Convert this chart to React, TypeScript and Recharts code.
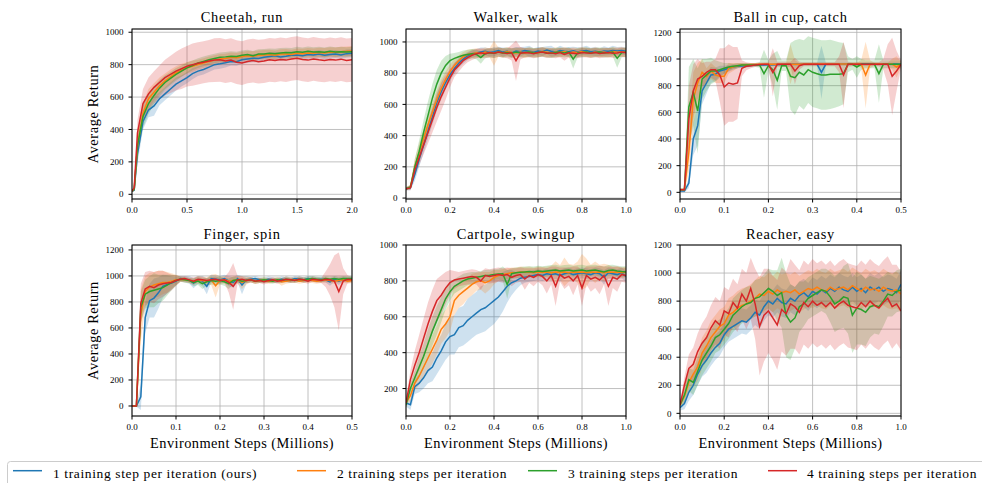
import React from "react";
import { ComposedChart, Line, Area, XAxis, YAxis, CartesianGrid } from "recharts";

// ---------- labels ----------
const seriesNames = [
  "1 training step per iteration (ours)",
  "2 training steps per iteration",
  "3 training steps per iteration",
  "4 training steps per iteration",
];
const seriesColors = ["#1f77b4", "#ff7f0e", "#2ca02c", "#d62728"];
const panelTitles = ["Cheetah, run", "Walker, walk", "Ball in cup, catch", "Finger, spin", "Cartpole, swingup", "Reacher, easy"];

// ---------- x grids (millions of steps) ----------
const cheetahSteps = [0, 0.02, 0.05, 0.1, 0.15, 0.2, 0.25, 0.3, 0.35, 0.4,
  0.45, 0.5, 0.55, 0.6, 0.65, 0.7, 0.75, 0.8, 0.85, 0.9,
  0.95, 1.0, 1.05, 1.1, 1.15, 1.2, 1.25, 1.3, 1.35, 1.4,
  1.45, 1.5, 1.55, 1.6, 1.65, 1.7, 1.75, 1.8, 1.85, 1.9,
  1.95, 2.0];
const oneMillionSteps = [0, 0.02, 0.04, 0.06, 0.08, 0.1, 0.12, 0.14, 0.16, 0.18,
  0.2, 0.22, 0.24, 0.26, 0.28, 0.3, 0.32, 0.34, 0.36, 0.38,
  0.4, 0.42, 0.44, 0.46, 0.48, 0.5, 0.52, 0.54, 0.56, 0.58,
  0.6, 0.62, 0.64, 0.66, 0.68, 0.7, 0.72, 0.74, 0.76, 0.78,
  0.8, 0.82, 0.84, 0.86, 0.88, 0.9, 0.92, 0.94, 0.96, 0.98,
  1.0];
const halfMillionSteps = [0, 0.01, 0.02, 0.03, 0.04, 0.05, 0.06, 0.07, 0.08, 0.09,
  0.1, 0.11, 0.12, 0.13, 0.14, 0.15, 0.16, 0.17, 0.18, 0.19,
  0.2, 0.21, 0.22, 0.23, 0.24, 0.25, 0.26, 0.27, 0.28, 0.29,
  0.3, 0.31, 0.32, 0.33, 0.34, 0.35, 0.36, 0.37, 0.38, 0.39,
  0.4, 0.41, 0.42, 0.43, 0.44, 0.45, 0.46, 0.47, 0.48, 0.49,
  0.5];

// ---------- Cheetah, run ----------
const cheetahMean1 = [20, 25, 250, 450, 520, 545, 590, 620, 650, 680,
  700, 720, 745, 760, 770, 785, 800, 805, 812, 820,
  818, 830, 835, 840, 838, 845, 850, 855, 848, 852,
  858, 860, 855, 862, 860, 865, 858, 862, 866, 860,
  868, 870];
const cheetahSpread1 = [5, 10, 60, 50, 45, 60, 40, 40, 40, 40,
  35, 35, 35, 30, 30, 30, 30, 30, 30, 25,
  25, 25, 25, 25, 25, 25, 25, 25, 25, 25,
  25, 25, 25, 25, 25, 25, 25, 25, 25, 25,
  25, 25];
const cheetahMean2 = [20, 30, 300, 500, 590, 630, 670, 700, 725, 750,
  765, 780, 790, 800, 810, 820, 828, 835, 838, 845,
  842, 850, 855, 852, 858, 860, 862, 858, 865, 866,
  862, 870, 868, 872, 870, 875, 872, 878, 876, 880,
  882, 885];
const cheetahSpread2 = [5, 10, 60, 60, 60, 55, 50, 45, 45, 40,
  40, 35, 35, 30, 30, 30, 30, 30, 30, 30,
  30, 30, 30, 30, 30, 30, 30, 30, 30, 30,
  30, 30, 30, 30, 30, 30, 30, 30, 30, 30,
  30, 30];
const cheetahMean3 = [20, 30, 300, 480, 560, 610, 655, 690, 715, 740,
  760, 780, 795, 810, 820, 830, 838, 845, 848, 852,
  850, 858, 862, 855, 865, 866, 870, 868, 872, 875,
  873, 880, 876, 882, 878, 880, 876, 882, 878, 880,
  878, 880];
const cheetahSpread3 = [5, 10, 70, 70, 65, 55, 50, 45, 40, 40,
  35, 35, 30, 30, 30, 30, 30, 30, 30, 30,
  30, 30, 30, 30, 30, 30, 30, 30, 30, 30,
  30, 30, 30, 30, 30, 30, 30, 30, 30, 30,
  30, 30];
const cheetahMean4 = [20, 40, 380, 560, 620, 660, 690, 720, 740, 760,
  775, 790, 800, 808, 815, 822, 828, 830, 822, 828,
  815, 810, 820, 825, 818, 822, 830, 826, 832, 828,
  835, 840, 832, 828, 835, 830, 826, 832, 828, 834,
  826, 830];
const cheetahSpread4 = [5, 20, 80, 90, 100, 100, 105, 110, 115, 120,
  125, 125, 130, 130, 130, 130, 135, 135, 135, 135,
  135, 135, 135, 135, 135, 135, 135, 135, 135, 135,
  135, 135, 135, 135, 135, 135, 135, 135, 135, 135,
  135, 135];

// ---------- Walker, walk ----------
const walkerMean1 = [60, 65, 150, 250, 340, 430, 520, 610, 680, 740,
  790, 830, 865, 890, 910, 925, 930, 935, 940, 932,
  938, 945, 935, 940, 930, 942, 938, 945, 940, 935,
  942, 938, 948, 940, 935, 945, 940, 938, 944, 936,
  942, 945, 938, 940, 935, 942, 940, 946, 942, 945,
  940];
const walkerSpread1 = [10, 15, 40, 50, 50, 50, 50, 50, 50, 45,
  40, 35, 30, 30, 25, 25, 25, 30, 25, 25,
  30, 25, 30, 25, 30, 25, 30, 25, 35, 25,
  25, 30, 25, 35, 25, 30, 25, 30, 25, 30,
  25, 30, 25, 30, 25, 30, 25, 30, 25, 25,
  25];
const walkerMean2 = [60, 70, 200, 290, 380, 470, 550, 630, 700, 760,
  810, 850, 880, 905, 920, 925, 930, 925, 935, 930,
  928, 935, 930, 938, 932, 930, 935, 928, 936, 932,
  930, 938, 934, 930, 936, 932, 938, 930, 935, 932,
  938, 934, 930, 936, 932, 935, 930, 938, 934, 936,
  935];
const walkerSpread2 = [10, 15, 50, 60, 60, 60, 60, 60, 60, 50,
  45, 40, 35, 30, 30, 30, 30, 30, 30, 30,
  80, 30, 30, 30, 30, 30, 30, 30, 30, 30,
  30, 30, 30, 30, 30, 30, 30, 30, 30, 30,
  30, 30, 30, 30, 30, 30, 30, 30, 30, 30,
  30];
const walkerMean3 = [60, 70, 200, 300, 420, 530, 640, 730, 800, 850,
  880, 895, 905, 915, 920, 925, 920, 900, 925, 930,
  928, 935, 930, 932, 928, 935, 930, 932, 935, 930,
  932, 935, 930, 928, 932, 935, 930, 935, 890, 930,
  932, 935, 930, 932, 935, 930, 932, 935, 895, 930,
  935];
const walkerSpread3 = [10, 15, 50, 70, 80, 90, 90, 90, 80, 60,
  45, 35, 30, 30, 30, 30, 30, 40, 30, 30,
  30, 30, 30, 30, 30, 30, 30, 30, 30, 30,
  30, 30, 30, 30, 30, 30, 30, 30, 60, 30,
  30, 30, 30, 30, 30, 30, 30, 30, 60, 30,
  30];
const walkerMean4 = [60, 65, 180, 260, 340, 420, 500, 580, 650, 710,
  770, 820, 850, 880, 900, 915, 925, 930, 925, 932,
  928, 935, 930, 926, 932, 880, 928, 932, 930, 925,
  932, 935, 928, 930, 925, 932, 920, 930, 928, 925,
  932, 930, 928, 932, 926, 930, 932, 928, 930, 935,
  930];
const walkerSpread4 = [10, 15, 40, 50, 60, 70, 80, 90, 90, 80,
  60, 45, 40, 35, 30, 30, 30, 30, 30, 30,
  30, 30, 30, 30, 50, 130, 40, 30, 30, 30,
  30, 30, 30, 30, 30, 30, 40, 30, 30, 30,
  30, 30, 30, 30, 30, 30, 30, 30, 30, 30,
  30];

// ---------- Ball in cup, catch ----------
const ballMean1 = [10, 10, 70, 400, 500, 760, 820, 880, 885, 910,
  920, 930, 940, 945, 948, 950, 952, 955, 955, 955,
  956, 957, 958, 958, 960, 960, 960, 960, 962, 962,
  962, 962, 900, 962, 962, 962, 962, 962, 962, 962,
  962, 962, 962, 962, 962, 962, 962, 962, 962, 962,
  960];
const ballSpread1 = [10, 10, 40, 120, 150, 100, 80, 60, 50, 40,
  30, 25, 20, 15, 15, 15, 10, 10, 10, 10,
  10, 10, 10, 10, 10, 10, 10, 10, 10, 10,
  10, 10, 200, 10, 10, 10, 10, 10, 10, 10,
  10, 10, 10, 10, 10, 10, 10, 10, 10, 10,
  10];
const ballMean2 = [20, 20, 300, 700, 820, 900, 870, 910, 880, 870,
  870, 930, 940, 950, 955, 955, 958, 958, 960, 960,
  960, 960, 960, 960, 960, 960, 960, 960, 962, 962,
  962, 962, 962, 962, 962, 962, 962, 962, 962, 962,
  962, 962, 880, 960, 962, 962, 962, 962, 962, 940,
  960];
const ballSpread2 = [10, 10, 150, 200, 150, 100, 60, 60, 60, 50,
  50, 40, 30, 20, 15, 15, 10, 10, 10, 10,
  10, 10, 10, 10, 10, 150, 30, 10, 10, 10,
  10, 10, 10, 10, 10, 10, 10, 10, 10, 10,
  10, 30, 250, 30, 10, 10, 10, 10, 40, 80,
  20];
const ballMean3 = [20, 20, 640, 750, 610, 850, 880, 910, 910, 920,
  930, 940, 945, 950, 955, 955, 955, 955, 955, 890,
  950, 920, 840, 950, 950, 870, 860, 900, 880, 920,
  900, 890, 880, 880, 885, 885, 885, 890, 960, 960,
  940, 960, 960, 960, 960, 890, 960, 960, 960, 960,
  960];
const ballSpread3 = [10, 10, 300, 250, 320, 150, 120, 100, 80, 60,
  40, 30, 20, 20, 15, 15, 15, 15, 20, 180,
  40, 120, 220, 40, 40, 250, 280, 250, 260, 250,
  260, 260, 260, 260, 260, 250, 240, 230, 60, 40,
  80, 40, 30, 30, 30, 220, 30, 30, 30, 30,
  30];
const ballMean4 = [20, 20, 550, 760, 850, 870, 900, 920, 920, 880,
  790, 820, 810, 820, 930, 945, 950, 955, 958, 960,
  960, 900, 960, 960, 960, 960, 910, 950, 960, 960,
  960, 960, 960, 960, 960, 960, 960, 880, 960, 960,
  960, 960, 960, 960, 960, 960, 960, 960, 870, 910,
  960];
const ballSpread4 = [10, 10, 250, 200, 150, 100, 80, 60, 80, 200,
  290, 290, 280, 270, 60, 30, 20, 15, 15, 15,
  15, 180, 20, 20, 20, 20, 100, 30, 15, 15,
  15, 15, 15, 15, 15, 15, 60, 250, 20, 15,
  15, 15, 15, 15, 15, 15, 40, 150, 290, 150,
  30];

// ---------- Finger, spin ----------
const fingerMean1 = [0, 0, 70, 680, 810, 830, 870, 920, 935, 945,
  960, 980, 975, 970, 945, 970, 960, 920, 980, 975,
  970, 980, 960, 950, 980, 930, 970, 975, 980, 970,
  965, 975, 970, 965, 975, 970, 965, 980, 975, 970,
  980, 975, 970, 975, 970, 955, 975, 960, 975, 970,
  975];
const fingerSpread1 = [5, 5, 100, 120, 130, 150, 120, 90, 70, 50,
  30, 20, 25, 30, 40, 30, 40, 60, 30, 30,
  30, 30, 40, 40, 30, 70, 30, 20, 20, 20,
  20, 20, 20, 20, 20, 20, 20, 20, 20, 20,
  20, 20, 20, 20, 20, 30, 20, 30, 20, 20,
  20];
const fingerMean2 = [0, 0, 700, 880, 915, 930, 940, 950, 950, 960,
  970, 975, 970, 965, 960, 970, 965, 960, 970, 925,
  965, 970, 960, 965, 970, 950, 965, 970, 960, 965,
  970, 960, 965, 970, 955, 960, 965, 970, 960, 965,
  970, 965, 960, 965, 970, 965, 960, 965, 970, 960,
  965];
const fingerSpread2 = [5, 5, 200, 120, 110, 100, 100, 90, 80, 60,
  40, 20, 20, 20, 20, 30, 30, 30, 40, 90,
  30, 30, 30, 30, 30, 50, 30, 20, 20, 20,
  20, 20, 20, 20, 30, 20, 20, 20, 20, 20,
  20, 20, 20, 20, 20, 20, 20, 20, 20, 20,
  20];
const fingerMean3 = [0, 0, 760, 860, 880, 890, 900, 910, 930, 950,
  965, 975, 970, 965, 950, 960, 940, 955, 965, 960,
  965, 955, 940, 965, 970, 960, 965, 970, 960, 965,
  970, 965, 960, 970, 965, 975, 970, 965, 975, 970,
  975, 980, 975, 970, 980, 975, 980, 975, 980, 980,
  980];
const fingerSpread3 = [5, 5, 120, 110, 120, 130, 110, 100, 80, 60,
  40, 20, 20, 20, 30, 30, 40, 30, 30, 30,
  30, 30, 40, 30, 20, 20, 20, 20, 20, 20,
  20, 20, 20, 20, 20, 20, 20, 20, 20, 20,
  20, 20, 20, 20, 20, 20, 20, 20, 20, 20,
  20];
const fingerMean4 = [0, 0, 790, 900, 920, 910, 930, 940, 945, 950,
  965, 975, 980, 970, 960, 975, 970, 965, 970, 975,
  965, 970, 950, 920, 970, 975, 965, 970, 960, 965,
  955, 965, 970, 960, 965, 975, 970, 965, 975, 970,
  960, 975, 970, 965, 975, 970, 960, 880, 960, 975,
  970];
const fingerSpread4 = [5, 5, 150, 130, 120, 120, 110, 100, 80, 60,
  40, 20, 20, 20, 30, 20, 20, 20, 20, 20,
  20, 20, 80, 180, 30, 20, 20, 20, 20, 20,
  20, 20, 20, 20, 20, 20, 20, 20, 20, 20,
  20, 20, 20, 20, 60, 120, 200, 300, 100, 30,
  20];

// ---------- Cartpole, swingup ----------
const cartpoleMean1 = [120, 110, 210, 230, 260, 300, 320, 370, 410, 460,
  490, 500, 540, 550, 580, 600, 620, 640, 650, 670,
  690, 710, 740, 770, 790, 800, 815, 820, 825, 830,
  835, 830, 840, 835, 840, 830, 840, 845, 835, 840,
  845, 840, 835, 845, 840, 820, 845, 840, 835, 845,
  825];
const cartpoleSpread1 = [20, 30, 40, 50, 60, 70, 80, 90, 90, 100,
  100, 110, 110, 110, 120, 120, 120, 130, 130, 130,
  130, 120, 110, 90, 70, 50, 40, 30, 30, 30,
  30, 30, 30, 30, 30, 30, 30, 30, 30, 30,
  30, 30, 30, 30, 30, 40, 30, 30, 30, 30,
  30];
const cartpoleMean2 = [120, 160, 230, 270, 320, 370, 420, 470, 530, 560,
  600, 690, 720, 740, 760, 780, 795, 800, 790, 800,
  820, 830, 835, 840, 845, 845, 850, 848, 850, 845,
  850, 848, 850, 845, 850, 848, 850, 845, 850, 848,
  850, 845, 850, 848, 850, 845, 850, 848, 850, 845,
  850];
const cartpoleSpread2 = [20, 30, 40, 50, 60, 70, 80, 80, 80, 80,
  80, 80, 70, 70, 60, 60, 50, 50, 60, 50,
  40, 30, 30, 30, 30, 30, 30, 30, 30, 30,
  30, 30, 30, 40, 60, 40, 80, 50, 40, 60,
  100, 80, 40, 60, 40, 50, 40, 30, 30, 30,
  30];
const cartpoleMean3 = [110, 200, 260, 320, 380, 450, 520, 580, 640, 700,
  740, 770, 785, 800, 810, 815, 820, 825, 830, 832,
  835, 838, 840, 780, 840, 845, 848, 850, 852, 850,
  855, 852, 855, 858, 860, 855, 858, 860, 855, 858,
  860, 855, 858, 860, 855, 850, 858, 860, 855, 852,
  850];
const cartpoleSpread3 = [20, 30, 40, 60, 70, 80, 80, 80, 70, 60,
  50, 40, 40, 40, 35, 35, 30, 30, 30, 30,
  30, 30, 40, 80, 30, 30, 30, 30, 30, 30,
  30, 30, 30, 30, 30, 30, 30, 30, 30, 30,
  30, 30, 30, 30, 30, 30, 30, 30, 30, 30,
  30];
const cartpoleMean4 = [120, 250, 330, 400, 480, 560, 630, 690, 720, 760,
  790, 805, 810, 815, 820, 825, 820, 800, 830, 825,
  830, 835, 830, 835, 820, 830, 835, 810, 830, 820,
  835, 825, 800, 830, 770, 835, 815, 825, 800, 830,
  760, 830, 810, 820, 805, 830, 770, 820, 810, 835,
  830];
const cartpoleSpread4 = [20, 50, 80, 100, 110, 120, 120, 120, 110, 90,
  70, 50, 40, 40, 40, 40, 40, 50, 40, 40,
  40, 40, 40, 40, 50, 40, 40, 60, 40, 50,
  40, 50, 70, 50, 110, 40, 60, 50, 80, 50,
  100, 50, 70, 60, 80, 50, 110, 60, 70, 40,
  40];

// ---------- Reacher, easy ----------
const reacherMean1 = [40, 70, 150, 200, 280, 340, 380, 430, 470, 500,
  560, 600, 620, 640, 660, 650, 680, 720, 700, 760,
  800, 780, 820, 790, 780, 820, 800, 840, 860, 830,
  870, 850, 880, 860, 890, 870, 900, 880, 870, 900,
  870, 890, 860, 900, 880, 900, 870, 890, 880, 860,
  920];
const reacherSpread1 = [20, 40, 60, 70, 80, 80, 90, 90, 90, 90,
  90, 90, 90, 90, 90, 90, 90, 90, 100, 100,
  100, 100, 100, 100, 100, 100, 100, 100, 100, 100,
  100, 100, 100, 100, 100, 100, 100, 100, 100, 100,
  100, 100, 100, 100, 100, 100, 100, 100, 100, 100,
  100];
const reacherMean2 = [60, 120, 220, 280, 330, 430, 480, 540, 580, 620,
  640, 700, 720, 750, 770, 780, 800, 820, 850, 840,
  870, 850, 880, 860, 870, 860, 880, 850, 870, 890,
  880, 900, 880, 870, 900, 880, 890, 900, 880, 910,
  890, 870, 900, 880, 890, 870, 900, 880, 870, 880,
  850];
const reacherSpread2 = [20, 50, 80, 90, 100, 110, 110, 120, 120, 120,
  120, 120, 120, 120, 120, 120, 120, 130, 130, 130,
  130, 130, 130, 130, 130, 130, 130, 130, 130, 130,
  130, 130, 130, 130, 130, 130, 130, 130, 130, 130,
  130, 130, 130, 130, 130, 130, 130, 130, 130, 130,
  130];
const reacherMean3 = [60, 130, 240, 220, 300, 380, 430, 480, 540, 560,
  600, 640, 700, 730, 760, 780, 790, 820, 830, 860,
  890, 870, 840, 860, 700, 650, 680, 760, 780, 820,
  840, 860, 880, 870, 830, 780, 800, 830, 820, 700,
  750, 740, 720, 760, 770, 760, 800, 850, 840, 870,
  880];
const reacherSpread3 = [20, 50, 80, 90, 100, 110, 110, 110, 110, 110,
  110, 110, 120, 120, 120, 120, 120, 130, 130, 130,
  140, 150, 180, 250, 300, 270, 220, 180, 160, 150,
  150, 150, 150, 160, 180, 200, 200, 220, 250, 270,
  260, 250, 240, 220, 200, 200, 180, 160, 150, 150,
  150];
const reacherMean4 = [60, 200, 320, 350, 440, 500, 540, 610, 660, 630,
  730, 710, 790, 750, 850, 800, 890, 780, 620, 700,
  730, 680, 630, 740, 710, 780, 760, 720, 790, 760,
  800, 770, 790, 760, 790, 750, 780, 800, 770, 760,
  750, 790, 760, 800, 770, 750, 790, 820, 760, 780,
  730];
const reacherSpread4 = [20, 60, 100, 120, 130, 140, 150, 160, 170, 170,
  170, 170, 170, 170, 180, 200, 220, 250, 350, 330,
  300, 300, 320, 300, 300, 320, 300, 300, 300, 300,
  300, 300, 300, 300, 300, 300, 300, 300, 300, 300,
  300, 300, 300, 300, 300, 300, 300, 300, 300, 280,
  280];

// ---------- axis ticks ----------
const xTicksTwo = [0, 0.5, 1.0, 1.5, 2.0];
const xTicksOne = [0, 0.2, 0.4, 0.6, 0.8, 1.0];
const xTicksHalf = [0, 0.1, 0.2, 0.3, 0.4, 0.5];
const yTicksTo1000 = [0, 200, 400, 600, 800, 1000];
const yTicksTo1200 = [0, 200, 400, 600, 800, 1000, 1200];
const yTicksCartpole = [200, 400, 600, 800, 1000];

const FONT = "Liberation Serif, DejaVu Serif, Noto Serif, serif";

type PanelSpec = {
  title: string;
  steps: number[];
  means: number[][];
  spreads: number[][];
  xDomain: [number, number];
  xTicks: number[];
  yDomain: [number, number];
  yTicks: number[];
  left: number;
  top: number;
  width: number;
  height: number;
};

const COLS = [132, 406, 680];
const ROWS = [29, 245];
const PW = 220;
const PH = [170, 171];

const panels: PanelSpec[] = [
  {
    title: panelTitles[0], steps: cheetahSteps,
    means: [cheetahMean1, cheetahMean2, cheetahMean3, cheetahMean4],
    spreads: [cheetahSpread1, cheetahSpread2, cheetahSpread3, cheetahSpread4],
    xDomain: [0, 2], xTicks: xTicksTwo, yDomain: [-29, 1020], yTicks: yTicksTo1000,
    left: COLS[0], top: ROWS[0], width: PW, height: PH[0],
  },
  {
    title: panelTitles[1], steps: oneMillionSteps,
    means: [walkerMean1, walkerMean2, walkerMean3, walkerMean4],
    spreads: [walkerSpread1, walkerSpread2, walkerSpread3, walkerSpread4],
    xDomain: [0, 1], xTicks: xTicksOne, yDomain: [-6, 1083], yTicks: yTicksTo1000,
    left: COLS[1], top: ROWS[0], width: PW, height: PH[0],
  },
  {
    title: panelTitles[2], steps: halfMillionSteps,
    means: [ballMean1, ballMean2, ballMean3, ballMean4],
    spreads: [ballSpread1, ballSpread2, ballSpread3, ballSpread4],
    xDomain: [0, 0.5], xTicks: xTicksHalf, yDomain: [-50, 1225], yTicks: yTicksTo1200,
    left: COLS[2], top: ROWS[0], width: PW + 1, height: PH[0],
  },
  {
    title: panelTitles[3], steps: halfMillionSteps,
    means: [fingerMean1, fingerMean2, fingerMean3, fingerMean4],
    spreads: [fingerSpread1, fingerSpread2, fingerSpread3, fingerSpread4],
    xDomain: [0, 0.5], xTicks: xTicksHalf, yDomain: [-77, 1238], yTicks: yTicksTo1200,
    left: COLS[0], top: ROWS[1], width: PW, height: PH[1],
  },
  {
    title: panelTitles[4], steps: oneMillionSteps,
    means: [cartpoleMean1, cartpoleMean2, cartpoleMean3, cartpoleMean4],
    spreads: [cartpoleSpread1, cartpoleSpread2, cartpoleSpread3, cartpoleSpread4],
    xDomain: [0, 1], xTicks: xTicksOne, yDomain: [47, 1000], yTicks: yTicksCartpole,
    left: COLS[1], top: ROWS[1], width: PW, height: PH[1],
  },
  {
    title: panelTitles[5], steps: oneMillionSteps,
    means: [reacherMean1, reacherMean2, reacherMean3, reacherMean4],
    spreads: [reacherSpread1, reacherSpread2, reacherSpread3, reacherSpread4],
    xDomain: [0, 1], xTicks: xTicksOne, yDomain: [-19, 1200], yTicks: yTicksTo1200,
    left: COLS[2], top: ROWS[1], width: PW + 1, height: PH[1],
  },
];

const YW = 45;
const MT = 5;
const MR = 10;
const XH = 20;

function Panel({ spec }: { spec: PanelSpec }) {
  const rows = spec.steps.map((x, i) => {
    const r: Record<string, any> = { x };
    spec.means.forEach((m, k) => {
      r["m" + k] = m[i];
      r["b" + k] = [m[i] - spec.spreads[k][i], m[i] + spec.spreads[k][i]];
    });
    return r;
  });
  const tickStyle = { fontSize: 9, fill: "#000", fontFamily: FONT, style: { fontFamily: FONT } };
  return (
    <div style={{ position: "absolute", left: spec.left - YW, top: spec.top - MT, fontFamily: FONT }}>
      <ComposedChart
        width={spec.width + YW + MR}
        height={spec.height + MT + XH}
        data={rows}
        margin={{ top: MT, right: MR, bottom: 0, left: 0 }}
        style={{ fontFamily: FONT }}
      >
        <CartesianGrid stroke="#b0b0b0" strokeWidth={0.8} />
        <XAxis
          type="number"
          dataKey="x"
          domain={spec.xDomain}
          ticks={spec.xTicks}
          interval={0}
          allowDataOverflow
          height={XH}
          axisLine={false}
          tickLine={{ stroke: "#000" }}
          tickSize={3.5}
          tickMargin={4}
          tick={tickStyle}
          tickFormatter={(v: number) => v.toFixed(1)}
        />
        <YAxis
          type="number"
          domain={spec.yDomain}
          ticks={spec.yTicks}
          interval={0}
          allowDataOverflow
          width={YW}
          axisLine={false}
          tickLine={{ stroke: "#000" }}
          tickSize={3.5}
          tickMargin={5}
          tick={tickStyle}
        />
        {spec.means.map((_, k) => (
          <Area
            key={"b" + k}
            type="linear"
            dataKey={"b" + k}
            fill={seriesColors[k]}
            fillOpacity={0.22}
            stroke="none"
            activeDot={false}
            dot={false}
            isAnimationActive={false}
          />
        ))}
        {spec.means.map((_, k) => (
          <Line
            key={"m" + k}
            type="linear"
            dataKey={"m" + k}
            stroke={seriesColors[k]}
            strokeWidth={1.5}
            dot={false}
            activeDot={false}
            isAnimationActive={false}
          />
        ))}
      </ComposedChart>
    </div>
  );
}

const legendLineX = [13, 297, 528, 768];
const legendTextX = [53, 337, 568, 807];

export default function App() {
  const textStyle = { fontFamily: FONT };
  return (
    <div style={{ position: "absolute", left: 0, top: 0, width: 982, height: 483, overflow: "hidden", background: "#fff", fontFamily: FONT }}>
      {panels.map((p, i) => (
        <Panel key={i} spec={p} />
      ))}
      <svg
        width={982}
        height={483}
        style={{ position: "absolute", left: 0, top: 0, pointerEvents: "none", fontFamily: FONT }}
      >
        {panels.map((p, i) => (
          <g key={i}>
            <rect x={p.left} y={p.top} width={p.width} height={p.height} fill="none" stroke="#000" strokeWidth={1} />
            <text
              x={p.left + p.width / 2}
              y={i < 3 ? 21.7 : 238.5}
              textAnchor="middle"
              fontSize={14.4}
              letterSpacing={0.75}
              fill="#000"
              style={textStyle}
            >
              {p.title}
            </text>
            {i % 3 === 0 && (
              <text
                transform={`translate(97.5, ${p.top + p.height / 2}) rotate(-90)`}
                textAnchor="middle"
                fontSize={14.4}
                letterSpacing={0.6}
                fill="#000"
                style={textStyle}
              >
                Average Return
              </text>
            )}
            {i >= 3 && (
              <text
                x={p.left + p.width / 2}
                y={448}
                textAnchor="middle"
                fontSize={14.4}
                letterSpacing={0.43}
                fill="#000"
                style={textStyle}
              >
                Environment Steps (Millions)
              </text>
            )}
          </g>
        ))}
        <rect x={7.5} y={461.5} width={1000} height={40} rx={3} fill="#fff" stroke="#cccccc" strokeWidth={1} />
        {seriesNames.map((name, k) => (
          <g key={k}>
            <line x1={legendLineX[k]} x2={legendLineX[k] + 29} y1={470.7} y2={470.7} stroke={seriesColors[k]} strokeWidth={1.5} />
            <text x={legendTextX[k]} y={477.5} fontSize={13.5} letterSpacing={0.62} fill="#000" style={textStyle}>
              {name}
            </text>
          </g>
        ))}
      </svg>
    </div>
  );
}
